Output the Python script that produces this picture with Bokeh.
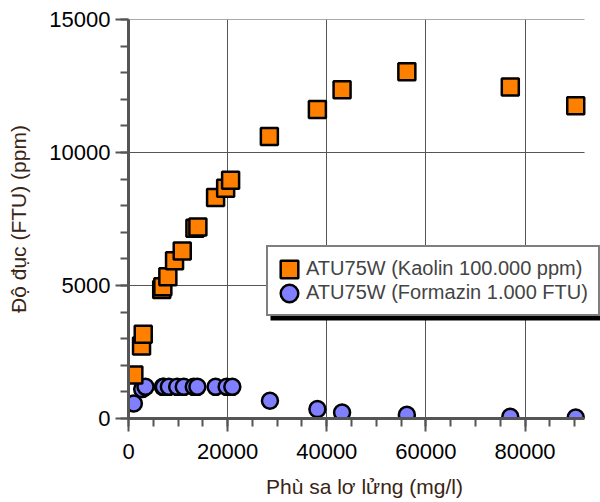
from bokeh.plotting import figure
from bokeh.models import Range1d, Legend, LegendItem, SingleIntervalTicker, BoxAnnotation
from bokeh.embed import file_html
from bokeh.resources import INLINE

# Suspended sediment (mg/l)
x_kaolin = [1080, 2630, 2970, 6700, 6930, 7940, 9290, 10840, 13400, 14000,
            17570, 19600, 20600, 28420, 38110, 43090, 56160, 77030, 90230]
# Turbidity (FTU), ATU75W Kaolin 100.000 ppm
y_kaolin = [1640, 2730, 3170, 4850, 4950, 5330, 5930, 6300, 7150, 7200,
            8310, 8660, 8960, 10600, 11620, 12360, 13040, 12460, 11760]

x_formazin = [1080, 2760, 3430, 6930, 7130, 8140, 9820, 11150, 13170, 13900,
              17570, 19800, 20950, 28540, 38110, 43090, 56160, 77030, 90230]
# Turbidity (FTU), ATU75W Formazin 1.000 FTU
y_formazin = [565, 1105, 1190, 1190, 1190, 1190, 1190, 1190, 1190, 1190,
              1190, 1190, 1190, 665, 353, 226, 139, 64, 38]

y_grid_ticks = [5000, 10000, 15000]
x_axis_end = 92000

label_kaolin = "ATU75W (Kaolin 100.000 ppm)"
label_formazin = "ATU75W (Formazin 1.000 FTU)"
x_title = "Phù sa lơ lửng (mg/l)"
y_title = "Độ đục (FTU) (ppm)"

FONT = "Liberation Sans"
GRID = "#555555"
LABEL_COLOR = "#3a2414"

# frame spans 128..600 px; axis (0..92000) ends at 584 px
x_view_end = x_axis_end * 472 / 456

p = figure(width=600, height=502, x_range=Range1d(0, x_view_end), y_range=Range1d(0, 15000),
           output_backend="svg", toolbar_location=None,
           min_border_left=128, min_border_right=0, min_border_top=19, min_border_bottom=84)
p.outline_line_color = None
p.background_fill_color = "white"

p.xaxis.ticker = SingleIntervalTicker(interval=20000, num_minor_ticks=4)
p.yaxis.ticker = SingleIntervalTicker(interval=5000, num_minor_ticks=5)
p.xgrid.ticker = p.xaxis.ticker
p.xaxis.bounds = (0, x_axis_end)
p.ygrid.visible = False

for ax in (p.xaxis[0], p.yaxis[0]):
    ax.axis_line_width = 3
    ax.axis_line_color = GRID
    ax.major_tick_line_color = GRID
    ax.major_tick_line_width = 2
    ax.minor_tick_line_color = GRID
    ax.minor_tick_line_width = 2
    ax.major_tick_in = 0
    ax.major_tick_out = 13
    ax.minor_tick_in = 0
    ax.minor_tick_out = 8
    ax.major_label_text_font = FONT
    ax.major_label_text_font_size = "22px"
    ax.major_label_text_color = "black"
    ax.axis_label_text_font = FONT
    ax.axis_label_text_font_size = "21px"
    ax.axis_label_text_font_style = "normal"
    ax.axis_label_text_color = LABEL_COLOR

p.xaxis.axis_label = x_title
p.yaxis.axis_label = y_title
p.xaxis.major_label_standoff = 12
p.xaxis.axis_label_standoff = 13
p.yaxis.major_label_standoff = 5
p.yaxis.axis_label_standoff = 16

p.xgrid.grid_line_color = GRID
p.xgrid.grid_line_width = 1

# horizontal grid lines limited to the axis extent
p.segment(x0=[0] * len(y_grid_ticks), x1=[x_axis_end] * len(y_grid_ticks),
          y0=y_grid_ticks, y1=y_grid_ticks, line_color=GRID, line_width=1, level="underlay")

r_formazin = p.ellipse(x=x_formazin, y=y_formazin, width=16, height=16,
                       width_units="screen", height_units="screen",
                       fill_color="#7f7fff", line_color="black", line_width=2.5)
r_kaolin = p.rect(x=x_kaolin, y=y_kaolin, width=17, height=17,
                  width_units="screen", height_units="screen",
                  fill_color="#ff8000", line_color="black", line_width=2.5)

shadow = BoxAnnotation(left=142, right=473, bottom=98, top=163,
                       left_units="screen", right_units="screen",
                       bottom_units="screen", top_units="screen",
                       fill_color="black", fill_alpha=1, line_color=None)
p.add_layout(shadow)

legend = Legend(items=[LegendItem(label=label_kaolin, renderers=[r_kaolin]),
                       LegendItem(label=label_formazin, renderers=[r_formazin])],
                location=(138, 102))
legend.border_line_color = "black"
legend.border_line_width = 2
legend.background_fill_color = "white"
legend.background_fill_alpha = 1
legend.label_text_font = FONT
legend.label_text_font_size = "20px"
legend.glyph_width = 22
legend.glyph_height = 22
legend.label_height = 22
legend.label_standoff = 6
legend.spacing = 1
legend.padding = 10
legend.margin = 0
p.add_layout(legend)

open("out.html", "w").write(file_html(p, INLINE))
